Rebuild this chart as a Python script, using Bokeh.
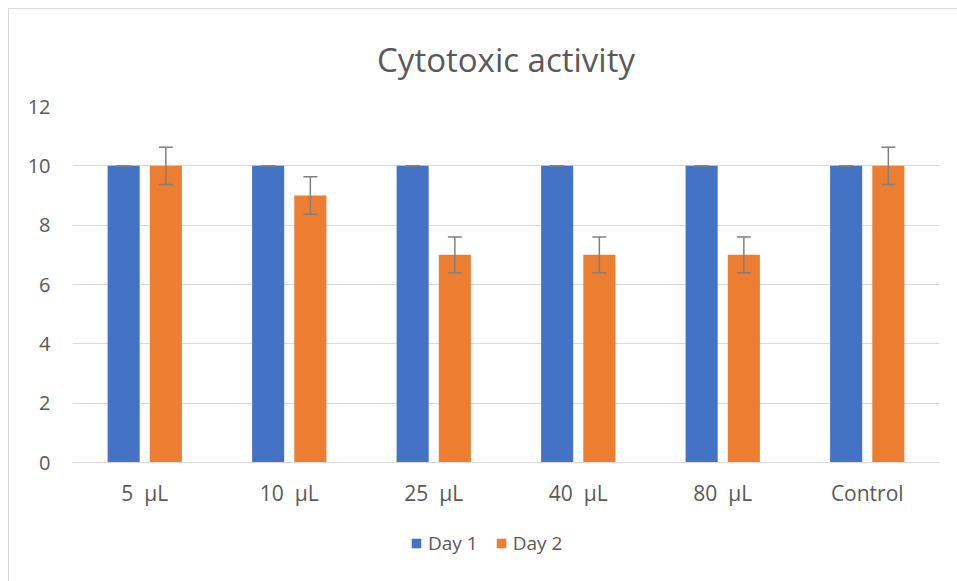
from bokeh.plotting import figure
from bokeh.layouts import column
from bokeh.models import ColumnDataSource, Whisker, Legend, LegendItem, FixedTicker
from bokeh.transform import dodge
from bokeh.embed import file_html
from bokeh.resources import INLINE

categories = ["5\u00a0\u00a0µL", "10\u00a0\u00a0µL", "25\u00a0\u00a0µL", "40\u00a0\u00a0µL", "80\u00a0\u00a0µL", "Control"]
series_names = ["Day 1", "Day 2"]
day1 = [10, 10, 10, 10, 10, 10]
day2 = [10, 9, 7, 7, 7, 10]
day1_err = [0, 0, 0, 0, 0, 0]
day2_err = [0.63, 0.63, 0.6, 0.6, 0.6, 0.63]
y_ticks = [0, 2, 4, 6, 8, 10, 12]

FONT = "Open Sans"
TXT = "#595959"
BLUE = "#4472C4"
ORANGE = "#ED7D31"
GRID = "#D9D9D9"

src = ColumnDataSource(dict(
    cat=categories,
    d1=day1, d2=day2,
    d1_up=[v + e for v, e in zip(day1, day1_err)],
    d1_lo=[v - e for v, e in zip(day1, day1_err)],
    d2_up=[v + e for v, e in zip(day2, day2_err)],
    d2_lo=[v - e for v, e in zip(day2, day2_err)],
))

p = figure(x_range=categories, y_range=(0, 12), width=948, height=505,
           output_backend="svg", toolbar_location=None,
           min_border_left=63, min_border_right=18, min_border_top=97,
           min_border_bottom=52, title="Cytotoxic activity")
p.outline_line_color = None
p.background_fill_color = "white"
p.border_fill_color = "white"

p.title.align = "center"
p.title.text_font = FONT
p.title.text_font_size = "33px"
p.title.text_font_style = "normal"
p.title.text_color = TXT
p.title.standoff = 50

OFF = 0.146
W = 0.222
r1 = p.vbar(x=dodge("cat", -OFF, range=p.x_range), top="d1", width=W, source=src,
            fill_color=BLUE, line_color=None)
r2 = p.vbar(x=dodge("cat", OFF, range=p.x_range), top="d2", width=W, source=src,
            fill_color=ORANGE, line_color=None)

for base_off, up, lo in [(-OFF, "d1_up", "d1_lo"), (OFF, "d2_up", "d2_lo")]:
    w = Whisker(base=dodge("cat", base_off, range=p.x_range), upper=up, lower=lo,
                source=src, line_color="#7F7F7F", line_width=1.5, level="overlay")
    w.upper_head.size = 14
    w.lower_head.size = 14
    w.upper_head.line_color = "#7F7F7F"
    w.lower_head.line_color = "#7F7F7F"
    w.upper_head.line_width = 1.5
    w.lower_head.line_width = 1.5
    p.add_layout(w)

p.x_range.range_padding = 0
p.xgrid.grid_line_color = None
p.ygrid.grid_line_color = GRID
p.ygrid.grid_line_width = 1
p.yaxis.ticker = FixedTicker(ticks=y_ticks)

for ax in (p.xaxis, p.yaxis):
    ax.major_tick_line_color = None
    ax.minor_tick_line_color = None
    ax.major_tick_out = 0
    ax.major_tick_in = 0
    ax.major_label_text_font = FONT
    ax.major_label_text_color = TXT
p.yaxis.major_label_text_font_size = "20px"
p.xaxis.major_label_text_font_size = "21px"
p.yaxis.axis_line_color = None
p.xaxis.axis_line_color = GRID
p.yaxis.major_label_standoff = 22
p.xaxis.major_label_standoff = 16

# legend strip below the chart; swatch renderers hold no drawable values
lf = figure(width=948, height=67, x_range=(0, 1), y_range=(0, 1),
            output_backend="svg", toolbar_location=None,
            x_axis_type=None, y_axis_type=None,
            min_border_left=63, min_border_right=18, min_border_top=0, min_border_bottom=0)
lf.outline_line_color = None
lf.grid.grid_line_color = None
lf.border_fill_color = "white"
lf.background_fill_color = "white"
nan = float("nan")
lr1 = lf.vbar(x=[nan], top=[nan], width=0.1, fill_color=BLUE, line_color=None)
lr2 = lf.vbar(x=[nan], top=[nan], width=0.1, fill_color=ORANGE, line_color=None)

legend = Legend(items=[LegendItem(label=series_names[0], renderers=[lr1]),
                       LegendItem(label=series_names[1], renderers=[lr2])],
                orientation="horizontal", location=(338, 25),
                label_text_font=FONT, label_text_font_size="19px",
                label_text_color=TXT, border_line_color=None,
                background_fill_alpha=0, glyph_width=12, glyph_height=12,
                spacing=17, label_standoff=6, padding=4, margin=0)
lf.add_layout(legend, "center")

layout = column(p, lf, spacing=0)
layout.styles = {"border-top": "1px solid #D9D9D9", "border-left": "1px solid #D9D9D9",
                 "margin-left": "8px", "margin-top": "8px"}

open("out.html", "w").write(file_html(layout, INLINE))
